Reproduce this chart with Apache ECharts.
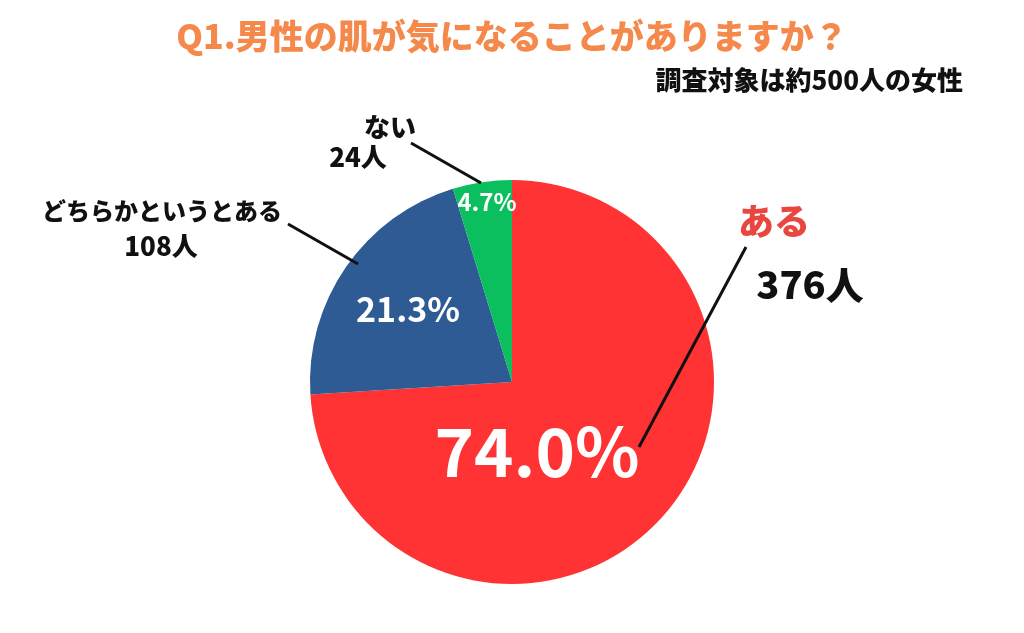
<!DOCTYPE html>
<html>
<head>
<meta charset="utf-8">
<script src="https://cdn.jsdelivr.net/npm/echarts@6/dist/echarts.min.js"></script>
<style>html,body{margin:0;padding:0;background:#fff}#c{width:1024px;height:633px}</style>
</head>
<body>
<div id="c"></div>
<script>
const titleText = 'Q1.男性の肌が気になることがありますか？';
const subText = '調査対象は約500人の女性';
const categories = ['ある', 'どちらかというとある', 'ない'];
const counts = [376, 108, 24];
const percents = ['74.0%', '21.3%', '4.7%'];
const colors = ['#FF3333', '#2E5B94', '#0BBE5E'];

const FONT = '"Noto Sans CJK JP", "Noto Sans", sans-serif';
// layout (not data): label positions
const pctPos = [[537, 452], [408, 309], [487, 202]];
const pctSize = [67, 34, 24];
const pctWeight = [600, 'bold', 'bold'];
const namePos = [[774, 221], [162, 211], [390, 127]];
const nameSize = [36, 24, 26];
const nameColor = ['#E8463F', '#111', '#111'];
const linePts = [[[639, 447], [746, 247]], [[358, 264], [288, 224]], [[481, 183], [411, 143]]];
const cntPos = [[810, 285], [161, 246], [358, 157]];
const cntSize = [38, 26, 26];

const chart = echarts.init(document.getElementById('c'));
const center = [512, 382];
const radius = 202;

chart.setOption({
  animation: false,
  title: [
    { text: titleText, left: 'center', top: 14,
      textStyle: { color: '#F5894B', fontSize: 34, fontWeight: 900, fontFamily: FONT } },
    { text: subText, right: 56, top: 62,
      textStyle: { color: '#111', fontSize: 26, fontWeight: 900, fontFamily: FONT } }
  ],
  series: [
    {
      type: 'pie', center: center, radius: radius, startAngle: 90, clockwise: true,
      silent: true,
      data: categories.map((n, i) => ({ name: n, value: counts[i], itemStyle: { color: colors[i] },
        label: { fontSize: pctSize[i], fontWeight: pctWeight[i] } })),
      label: { show: true, position: 'inside', color: '#fff', fontFamily: FONT,
        formatter: p => percents[p.dataIndex] },
      labelLayout: p => ({ x: pctPos[p.dataIndex][0], y: pctPos[p.dataIndex][1], align: 'center', verticalAlign: 'middle' })
    },
    {
      type: 'pie', center: center, radius: radius, startAngle: 90, clockwise: true,
      silent: true, z: 5,
      data: categories.map((n, i) => ({ name: n, value: counts[i], itemStyle: { color: 'rgba(0,0,0,0)' },
        label: { fontSize: nameSize[i], color: nameColor[i] } })),
      label: { show: true, position: 'outside', fontFamily: FONT, fontWeight: 900, formatter: '{b}' },
      labelLine: { show: true, lineStyle: { color: '#111', width: 3 } },
      labelLayout: p => ({ x: namePos[p.dataIndex][0], y: namePos[p.dataIndex][1], align: 'center', verticalAlign: 'middle',
        labelLinePoints: linePts[p.dataIndex] })
    },
    {
      type: 'pie', center: center, radius: radius, startAngle: 90, clockwise: true,
      silent: true, z: 5,
      data: categories.map((n, i) => ({ name: n, value: counts[i], itemStyle: { color: 'rgba(0,0,0,0)' },
        label: { fontSize: cntSize[i] } })),
      label: { show: true, position: 'outside', fontFamily: FONT, fontWeight: 900, color: '#111',
        formatter: p => counts[p.dataIndex] + '人' },
      labelLine: { show: false },
      labelLayout: p => ({ x: cntPos[p.dataIndex][0], y: cntPos[p.dataIndex][1], align: 'center', verticalAlign: 'middle' })
    }
  ]
});
</script>
</body>
</html>
